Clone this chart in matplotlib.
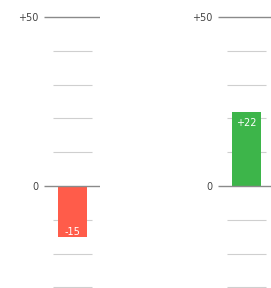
import numpy as np
import matplotlib.pyplot as plt

# Data
panels = ['left', 'right']
values = [-15, 22]
value_labels = ['-15', '+22']
bar_colors = ['#FF5C4A', '#3DB54A']
major_ticks = [50, 0]
major_labels = ['+50', '0']
minor_ticks = [40, 30, 20, 10, -10, -20, -30]

W, H = 271, 288
fig = plt.figure(figsize=(W / 100, H / 100), dpi=100)

# axes left edges in pixels
lefts = [44, 218]
ax_w = 56

for i, name in enumerate(panels):
    ax = fig.add_axes([lefts[i] / W, 0, ax_w / W, 1])
    ax.set_xlim(0, 1)
    ax.set_ylim(-30.2, 55)

    #grid lines
    ax.hlines(minor_ticks, 0.16, 0.86, color='#cfcfcf', lw=0.8, zorder=1)
    ax.hlines(major_ticks, 0, 1, color='#8a8a8a', lw=1.0, zorder=3)

    #bar
    v = values[i]
    ax.bar(0.51, v, width=0.52, color=bar_colors[i], zorder=2)
    if v < 0:
        ax.text(0.51, v + 1.5, value_labels[i], ha='center', va='center',
                color='white', fontsize=7, zorder=4)
    else:
        ax.text(0.51, v - 3.5, value_labels[i], ha='center', va='center',
                color='white', fontsize=7, zorder=4)

    ax.set_yticks(major_ticks, major_labels)
    ax.tick_params(axis='y', length=0, pad=4, labelsize=7, labelcolor='#444444')
    ax.set_xticks([])
    for s in ax.spines.values():
        s.set_visible(False)
    ax.patch.set_alpha(0)

fig.savefig('out.png', dpi=100)
